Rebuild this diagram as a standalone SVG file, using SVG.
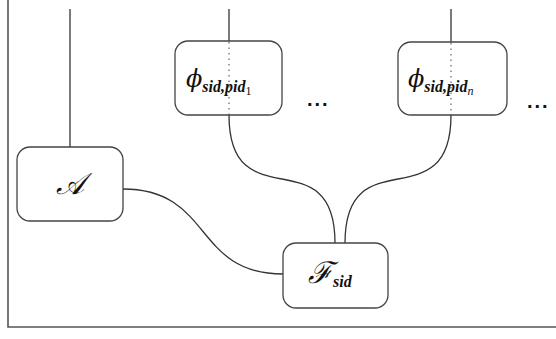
<svg xmlns="http://www.w3.org/2000/svg" width="556" height="339" viewBox="0 0 556 339">
  <style>
    .box { fill: #ffffff; stroke: #444444; stroke-width: 1.3; }
    .wire { fill: none; stroke: #333333; stroke-width: 1.3; }
    .dot { fill: none; stroke: #555555; stroke-width: 1.1; stroke-dasharray: 1.5 4; }
    .frame { fill: none; stroke: #555555; stroke-width: 1.6; }
    .math { font-family: "DejaVu Serif", "Liberation Serif", serif; font-style: italic; fill: #111111; }
    .sub { font-family: "Liberation Serif", serif; font-style: italic; font-weight: bold; }
    .ell { font-family: "Liberation Sans", sans-serif; font-size: 20px; font-weight: bold; fill: #111111; letter-spacing: 2px; }
  </style>

  <!-- frame -->
  <path class="frame" d="M8,0 V327 H556"/>

  <!-- connectors -->
  <g id="connectors">
    <line class="wire" x1="70" y1="9" x2="70" y2="147"/>
    <line class="wire" x1="229" y1="9" x2="229" y2="41"/>
    <line class="wire" x1="451" y1="9" x2="451" y2="42"/>
    <path class="wire" d="M123,189 C213,189 193,274 283,274"/>
    <path class="wire" d="M229,115 C229,222 335,136 335,243"/>
    <path class="wire" d="M451,115 C451,222 345,136 345,243"/>
  </g>

  <g id="node-A">
    <rect class="box" x="17" y="147" width="106" height="74" rx="13"/>
    <text class="math" x="70" y="194" font-size="30" text-anchor="middle">𝒜</text>
  </g>

  <g id="node-phi1">
    <rect class="box" x="175" y="41" width="107" height="74" rx="13"/>
    <line class="dot" x1="229" y1="42" x2="229" y2="115"/>
    <text class="math" x="186" y="87" font-size="24">ϕ<tspan class="sub" font-size="16" dy="5">sid,pid</tspan><tspan font-family="Liberation Serif" font-size="12" font-style="normal" dy="3">1</tspan></text>
  </g>

  <g id="node-phin">
    <rect class="box" x="398" y="42" width="109" height="73" rx="13"/>
    <line class="dot" x1="451" y1="43" x2="451" y2="115"/>
    <text class="math" x="408" y="87" font-size="24">ϕ<tspan class="sub" font-size="16" dy="5">sid,pid</tspan><tspan font-family="Liberation Serif" font-size="12" dy="3">n</tspan></text>
  </g>

  <g id="node-F">
    <rect class="box" x="283" y="243" width="105" height="65" rx="13"/>
    <text class="math" x="308" y="283" font-size="30">ℱ<tspan class="sub" font-size="16" dy="4">sid</tspan></text>
  </g>

  <text class="ell" x="307" y="106">...</text>
  <text class="ell" x="527" y="108">...</text>
</svg>
